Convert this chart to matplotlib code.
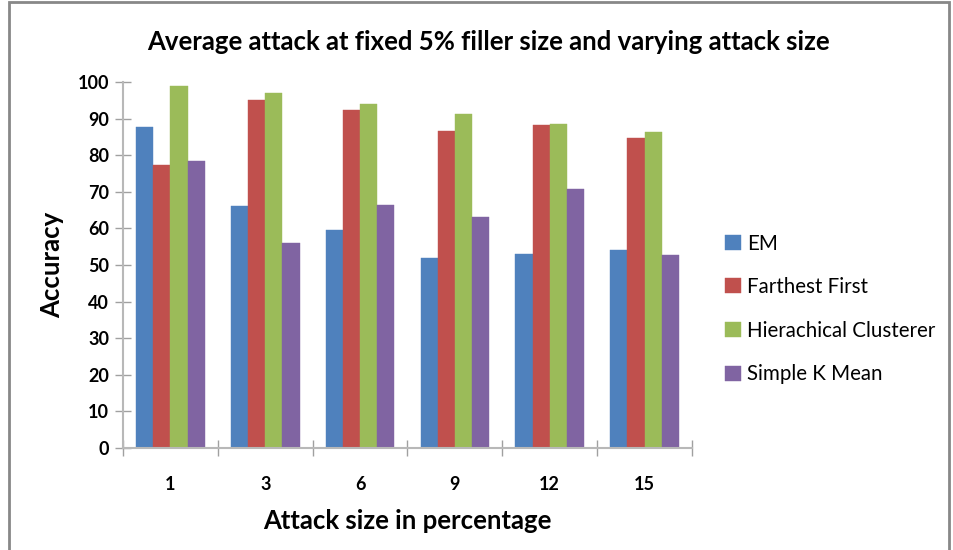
import matplotlib
matplotlib.use("Agg")
import matplotlib.pyplot as plt
import numpy as np
from matplotlib.patches import Rectangle

plt.rcParams['font.family'] = ['Lato', 'DejaVu Sans']

categories = ["1", "3", "6", "9", "12", "15"]
series_names = ["EM", "Farthest First", "Hierachical Clusterer", "Simple K Mean"]
em = [87.7, 66.0, 59.6, 51.8, 52.9, 54.2]
farthest_first = [77.2, 95.0, 92.3, 86.5, 88.3, 84.6]
hier_clusterer = [98.8, 96.9, 94.0, 91.3, 88.6, 86.3]
simple_k_mean = [78.4, 56.1, 66.3, 63.1, 70.7, 52.6]
colors = ["#4F81BD", "#C0504D", "#9BBB59", "#8064A2"]
yticks = [0, 10, 20, 30, 40, 50, 60, 70, 80, 90, 100]

fig = plt.figure(figsize=(9.54, 5.5), dpi=100)
ax = fig.add_axes([123/954, 1 - 448/550, (692-123)/954, (448-82)/550])

data = [em, farthest_first, hier_clusterer, simple_k_mean]
x = np.arange(len(categories))
bw = 0.181
for i, (vals, c, name) in enumerate(zip(data, colors, series_names)):
    ax.bar(x + (i - 1.5) * bw, vals, width=bw, color=c, label=name,
           edgecolor=c, linewidth=0.3)

ax.set_xlim(-0.5, len(categories) - 0.5)
ax.set_ylim(0, 100)
ax.set_yticks(yticks)
ax.set_yticklabels([str(v) for v in yticks], fontsize=13, fontweight='bold')
ax.set_xticks(x)
ax.set_xticklabels(categories, fontsize=13, fontweight='bold')
ax.tick_params(axis='x', length=0, pad=20)
# category boundary ticks
ax.set_xticks(np.arange(-0.5, len(categories) + 0.5, 1), minor=True)
ax.tick_params(axis='x', which='minor', length=12, direction='inout', color='#a0a0a0', width=1)
ax.tick_params(axis='y', length=12, direction='inout', color='#a0a0a0', width=1, pad=4)

for s in ['top', 'right']:
    ax.spines[s].set_visible(False)
for s in ['left', 'bottom']:
    ax.spines[s].set_color('#b8b8b8')
    ax.spines[s].set_linewidth(1.5)

ax.set_ylabel("Accuracy", fontsize=18.5, fontweight='bold', labelpad=10)
ax.set_xlabel("Attack size in percentage", fontsize=18.5, fontweight='bold', labelpad=12)

fig.text(488/954, 1 - 42/550, "Average attack at fixed 5% filler size and varying attack size",
         ha='center', va='center', fontsize=18.5, fontweight='bold')

leg = fig.legend(loc='upper left', bbox_to_anchor=(707/954, 1 - 215/550), frameon=False,
                 fontsize=14.8, handlelength=0.75, handleheight=0.75, handletextpad=0.3,
                 labelspacing=1.15)

fig.patches.append(Rectangle((9/954, -0.01), (949-9)/954, 1 - 2/550 + 0.01,
                             transform=fig.transFigure, fill=False,
                             edgecolor='#888888', linewidth=2))

fig.savefig("out.png", dpi=100)
